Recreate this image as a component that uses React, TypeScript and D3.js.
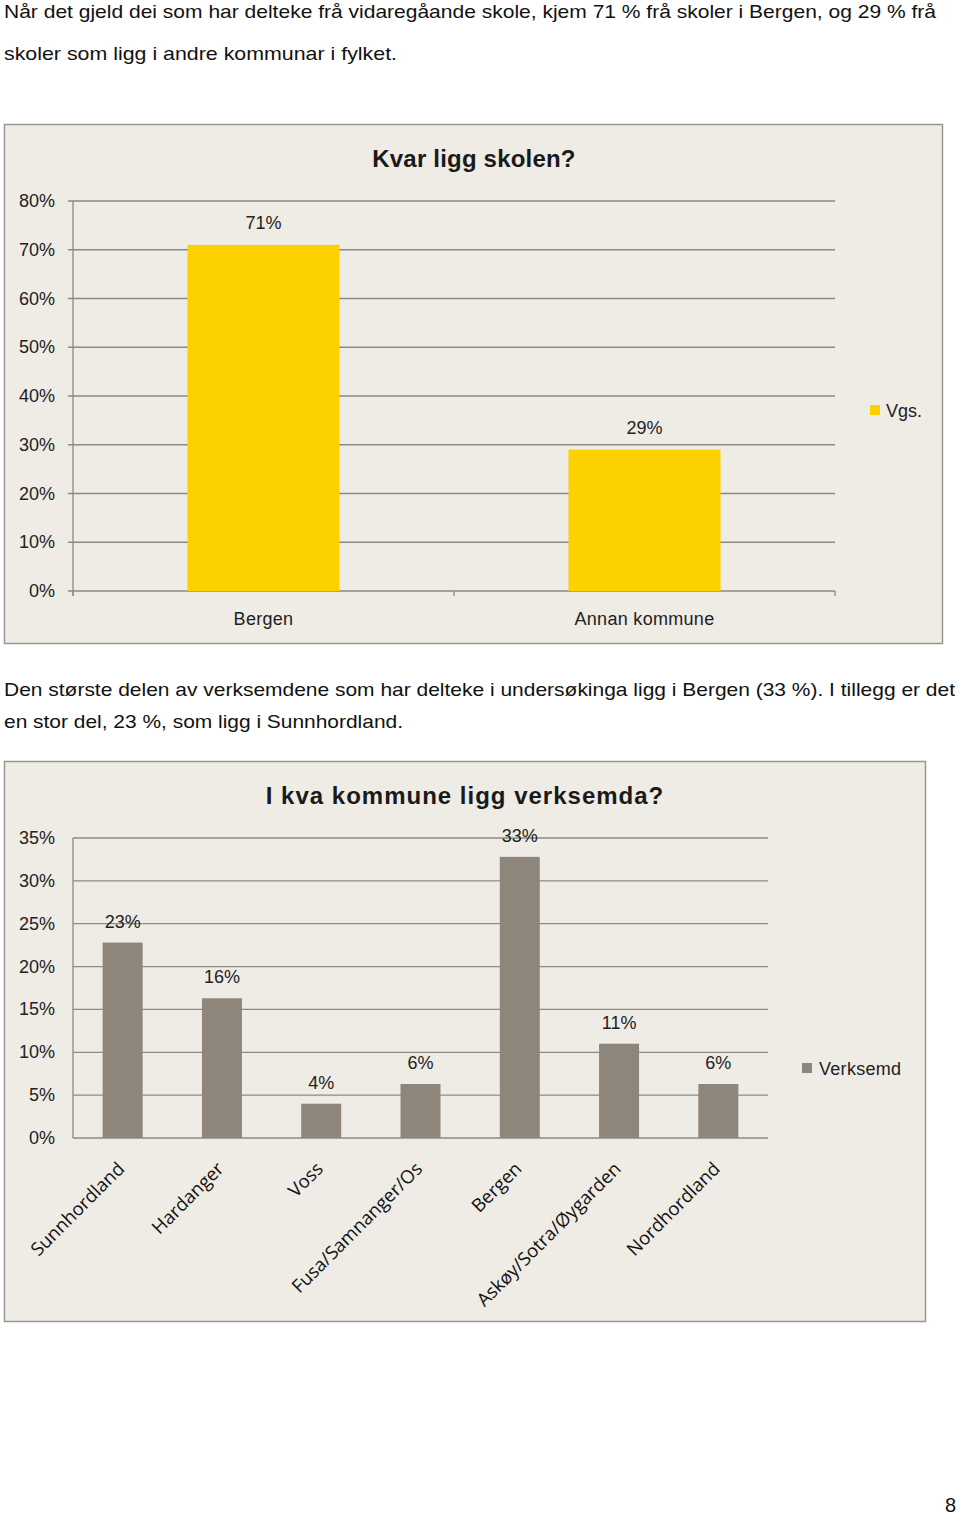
import * as d3 from 'd3';

// --- data ---
const schoolCategories = ['Bergen', 'Annan kommune'];
const schoolValues = [0.71, 0.29];
const schoolTicks = [0, 0.1, 0.2, 0.3, 0.4, 0.5, 0.6, 0.7, 0.8];

const firmCategories = ['Sunnhordland', 'Hardanger', 'Voss', 'Fusa/Samnanger/Os', 'Bergen', 'Askøy/Sotra/Øygarden', 'Nordhordland'];
const firmValues = [0.228, 0.163, 0.04, 0.063, 0.328, 0.11, 0.063];
const firmTicks = [0, 0.05, 0.1, 0.15, 0.2, 0.25, 0.3, 0.35];

const para1 = [
  'Når det gjeld dei som har delteke frå vidaregåande skole, kjem 71 % frå skoler i Bergen, og 29 % frå',
  'skoler som ligg i andre kommunar i fylket.',
];
const para2 = [
  'Den største delen av verksemdene som har delteke i undersøkinga ligg i Bergen (33 %). I tillegg er det',
  'en stor del, 23 %, som ligg i Sunnhordland.',
];

const BG = '#efebe5';
const GRID = '#8d8a86';
const FONT = 'Arial, "Liberation Sans", sans-serif';
const FS = 18;
const pct = d3.format('.0%');

function SchoolChart() {
  const x = d3.scaleBand<string>().domain(schoolCategories).range([73, 835]);
  const y = d3.scaleLinear().domain([0, 0.8]).range([591, 201]);
  const barW = 152;
  return (
    <g>
      <rect x={4.5} y={124.5} width={938} height={519} fill={BG} stroke="#9a9792" strokeWidth={1.5} />
      <text x={474} y={167} textAnchor="middle" fontFamily={FONT} fontWeight="bold" fontSize={24} fill="#1a1a1a" letterSpacing={0.2}>
        Kvar ligg skolen?
      </text>
      {schoolTicks.map(t => (
        <g key={t}>
          <line x1={68} x2={835} y1={y(t)} y2={y(t)} stroke={GRID} strokeWidth={1.3} />
          <text x={55} y={y(t) + 6} textAnchor="end" fontFamily={FONT} fontSize={FS} fill="#222">{pct(t)}</text>
        </g>
      ))}
      <line x1={73} x2={73} y1={y(0.8)} y2={y(0) + 5} stroke={GRID} strokeWidth={1.3} />
      {[73, 454, 835].map(v => (
        <line key={v} x1={v} x2={v} y1={y(0)} y2={y(0) + 5} stroke={GRID} strokeWidth={1.3} />
      ))}
      {schoolCategories.map((c, i) => {
        const cx = (x(c) as number) + x.bandwidth() / 2;
        return (
          <g key={c}>
            <rect x={cx - barW / 2} y={y(schoolValues[i])} width={barW} height={y(0) - y(schoolValues[i])} fill="#fdd000" />
            <text x={cx} y={y(schoolValues[i]) - 16} textAnchor="middle" fontFamily={FONT} fontSize={FS} fill="#222">{pct(schoolValues[i])}</text>
            <text x={cx} y={625} textAnchor="middle" fontFamily={FONT} fontSize={FS} fill="#222" letterSpacing={0.3}>{c}</text>
          </g>
        );
      })}
      <rect x={870} y={405} width={10} height={10} fill="#fdd000" />
      <text x={886} y={417} fontFamily={FONT} fontSize={FS} fill="#222">Vgs.</text>
    </g>
  );
}

function FirmChart() {
  const x = d3.scaleBand<string>().domain(firmCategories).range([73, 768]);
  const y = d3.scaleLinear().domain([0, 0.35]).range([1138, 838]);
  const barW = 40;
  return (
    <g>
      <rect x={4.5} y={761.5} width={921} height={560} fill={BG} stroke="#9a9792" strokeWidth={1.5} />
      <text x={465} y={804} textAnchor="middle" fontFamily={FONT} fontWeight="bold" fontSize={24} fill="#1a1a1a" letterSpacing={1}>
        I kva kommune ligg verksemda?
      </text>
      {firmTicks.map(t => (
        <g key={t}>
          <line x1={73} x2={768} y1={y(t)} y2={y(t)} stroke={GRID} strokeWidth={1.3} />
          <text x={55} y={y(t) + 6} textAnchor="end" fontFamily={FONT} fontSize={FS} fill="#222">{pct(t)}</text>
        </g>
      ))}
      <line x1={73} x2={73} y1={y(0.35)} y2={y(0)} stroke={GRID} strokeWidth={1.3} />
      {firmCategories.map((c, i) => {
        const cx = (x(c) as number) + x.bandwidth() / 2;
        return (
          <g key={c}>
            <rect x={cx - barW / 2} y={y(firmValues[i])} width={barW} height={y(0) - y(firmValues[i])} fill="#8e857b" />
            <text x={cx} y={y(firmValues[i]) - 15} textAnchor="middle" fontFamily={FONT} fontSize={FS} fill="#222">{pct(firmValues[i])}</text>
            <text transform={`translate(${cx + 3},${1170}) rotate(-45)`} textAnchor="end" fontFamily='"Open Sans", Lato, sans-serif' fontSize={18.5} fill="#111">{c}</text>
          </g>
        );
      })}
      <rect x={802} y={1063} width={10} height={10} fill="#8e857b" />
      <text x={819} y={1075} fontFamily={FONT} fontSize={FS} fill="#222" letterSpacing={0.3}>Verksemd</text>
    </g>
  );
}

export default function App() {
  const textStyle = { fontFamily: FONT, fontSize: 19, fill: '#111' };
  return (
    <svg width={960} height={1515} style={{ position: 'absolute', left: 0, top: 0, background: '#fff' }}>
      <text x={4} y={18} {...textStyle} textLength={932} lengthAdjust="spacingAndGlyphs">{para1[0]}</text>
      <text x={4} y={60} {...textStyle} textLength={393} lengthAdjust="spacingAndGlyphs">{para1[1]}</text>
      <SchoolChart />
      <text x={4} y={696} {...textStyle} textLength={951} lengthAdjust="spacingAndGlyphs">{para2[0]}</text>
      <text x={4} y={728} {...textStyle} textLength={399} lengthAdjust="spacingAndGlyphs">{para2[1]}</text>
      <FirmChart />
      <text x={956} y={1512} textAnchor="end" fontFamily={FONT} fontSize={20} fill="#111">8</text>
    </svg>
  );
}
